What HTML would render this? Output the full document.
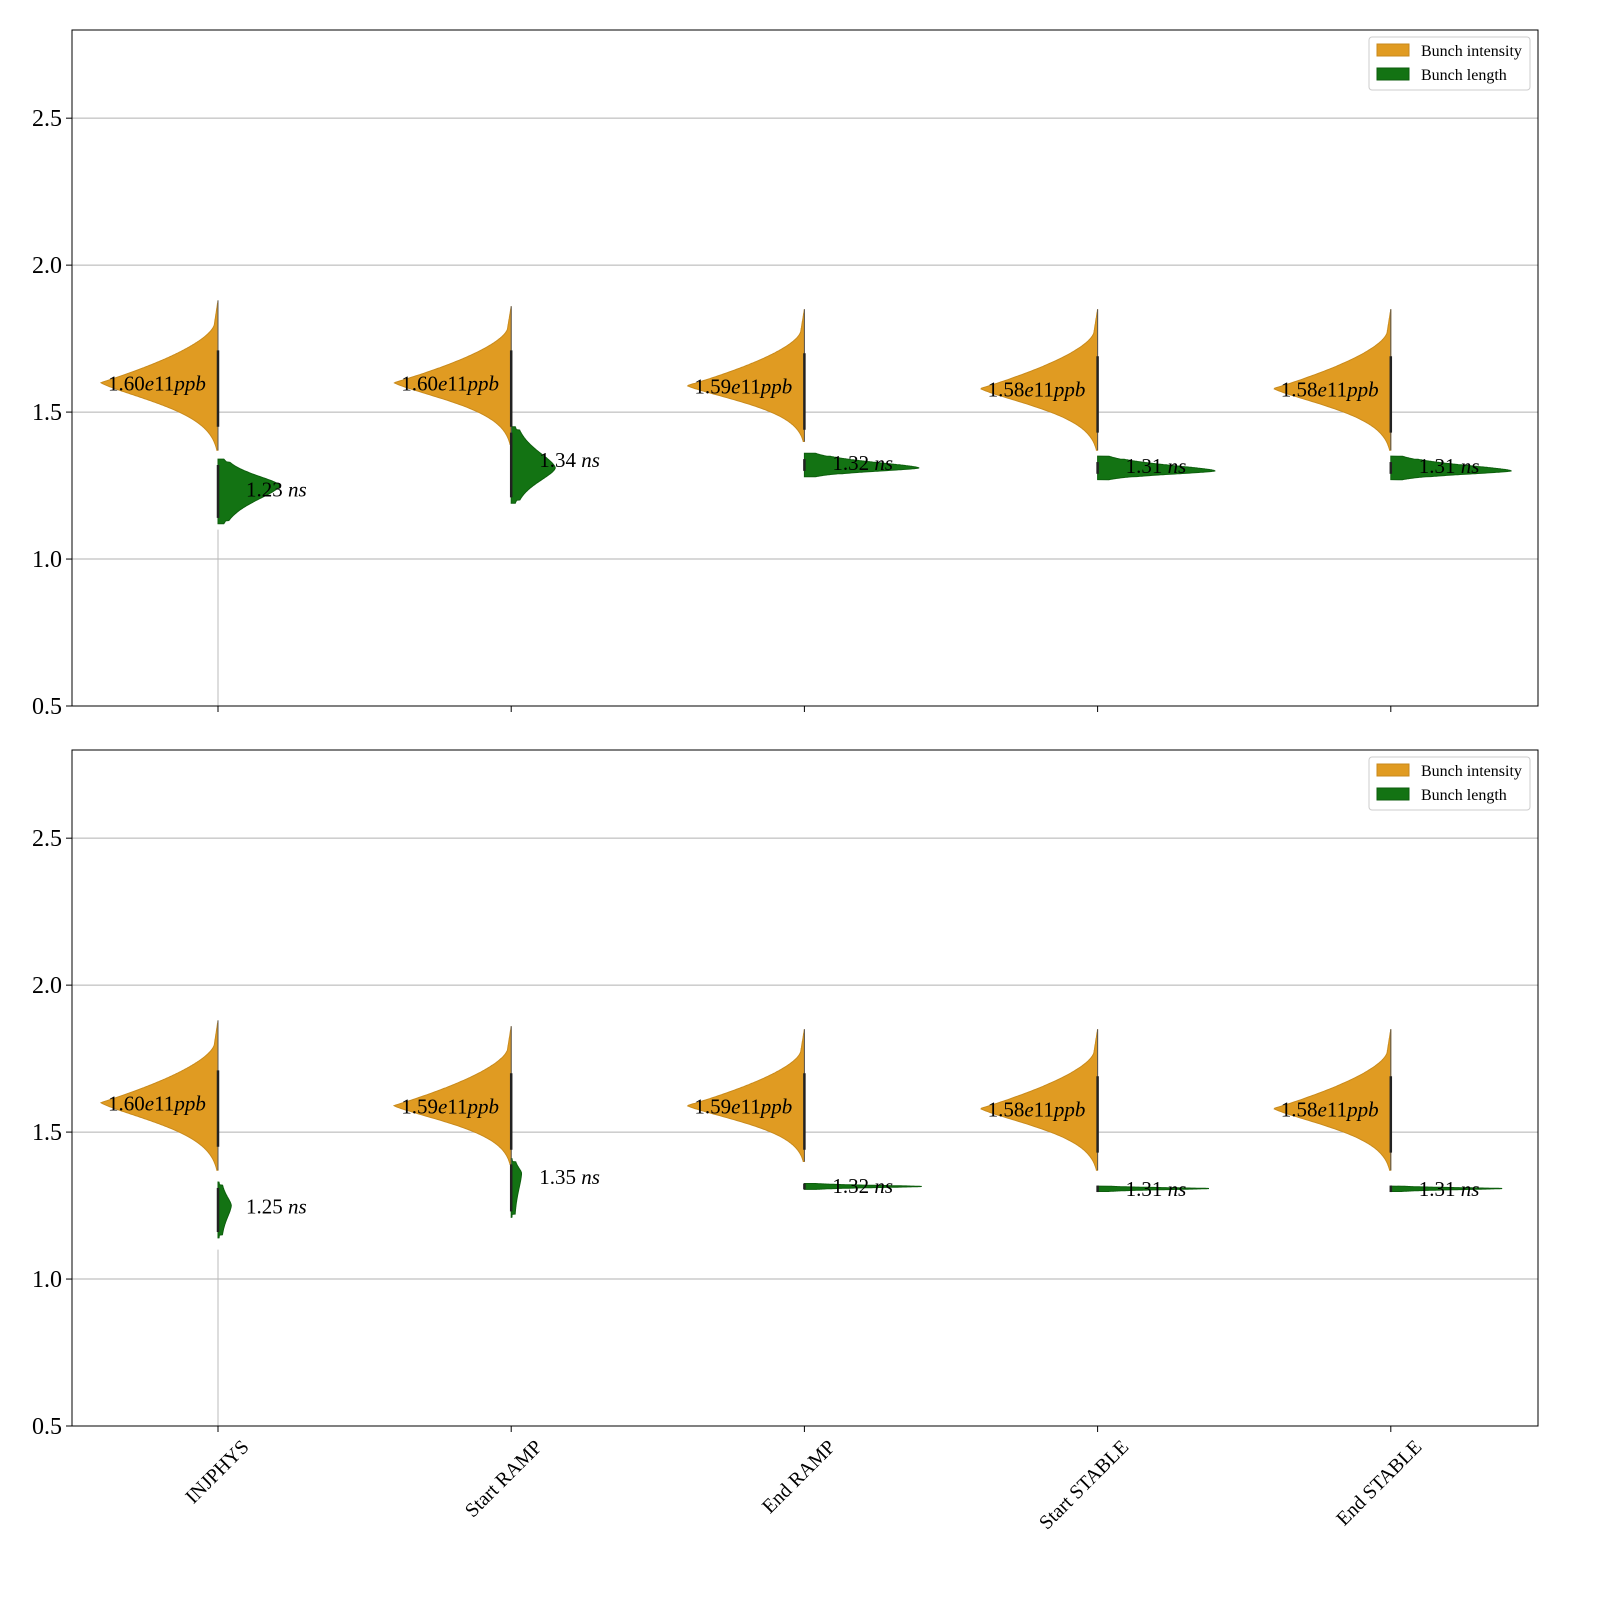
<!DOCTYPE html>
<html><head><meta charset="utf-8"><style>
body{margin:0;background:#fff}
svg{display:block;font-family:"Liberation Serif",serif}
</style></head><body>
<svg id="chart" width="1600" height="1600" viewBox="0 0 1600 1600"></svg>
<script>
const categories=["INJPHYS","Start RAMP","End RAMP","Start STABLE","End STABLE"];
const yTicks=[0.5,1.0,1.5,2.0,2.5];
const p1IntPeak=[1.60,1.60,1.59,1.58,1.58];
const p1IntLabel=["1.60","1.60","1.59","1.58","1.58"];
const p2IntPeak=[1.60,1.59,1.59,1.58,1.58];
const p2IntLabel=["1.60","1.59","1.59","1.58","1.58"];
const intLow=[1.37,1.39,1.40,1.37,1.37];
const intHigh=[1.88,1.86,1.85,1.85,1.85];
const intWidth=[0.40,0.40,0.40,0.40,0.40];
const p1LenPeak=[1.25,1.31,1.31,1.30,1.30];
const p1LenLow=[1.12,1.19,1.28,1.27,1.27];
const p1LenHigh=[1.34,1.45,1.36,1.35,1.35];
const p1LenWidth=[0.20,0.14,0.38,0.39,0.40];
const p1LenLabel=["1.23","1.34","1.32","1.31","1.31"];
const p1LenLabelY=[1.24,1.34,1.33,1.32,1.32];
const p2LenPeak=[1.25,1.36,1.315,1.308,1.308];
const p2LenLow=[1.14,1.21,1.305,1.298,1.298];
const p2LenHigh=[1.33,1.41,1.325,1.316,1.316];
const p2LenWidth=[0.035,0.025,0.40,0.38,0.38];
const p2LenLabel=["1.25","1.35","1.32","1.31","1.31"];
const p2LenLabelY=[1.25,1.35,1.32,1.31,1.31];

const NS="http://www.w3.org/2000/svg";
const svg=document.getElementById('chart');
const X0=72,X1=1538,CAT=293.2;
function xPos(i){return 218+CAT*i;}
function mk(tag,attrs,parent){const e=document.createElementNS(NS,tag);for(const k in attrs)e.setAttribute(k,attrs[k]);(parent||svg).appendChild(e);return e;}
function shapeW(y,peak,low,high,pw,tail){
  if(y<low||y>high)return 0;
  if(y>=peak){
    const t=(y-peak)/(high-peak); // 0..1
    // concave rise; long thin tail above
    const u=Math.min(t/tail,1);
    return Math.pow(1-u,1.6)*(t<tail?1:0)+(t>=tail?0.03*(1-t)/(1-tail):0.03*u);
  } else {
    const t=(peak-y)/(peak-low);
    return Math.exp(-0.5*Math.pow(t*2.6,pw))*(1-t*0.9);
  }
}
function panel(top,bottom,intPeak,intLabel,lenPeak,lenLow,lenHigh,lenWidth,lenLabel,lenLabelY,showX,pname){
  const g=mk('g',{});
  
  
  const yPos=v=>bottom-(v-0.5)/2.3*(bottom-top);
  yTicks.forEach(t=>{
    const gl=mk('line',{x1:X0,x2:X1,y1:yPos(t),y2:yPos(t),stroke:'#b0b0b0','stroke-width':1},g);
    
    mk('line',{x1:X0-6,x2:X0,y1:yPos(t),y2:yPos(t),stroke:'#000'},g);
    const tl=mk('text',{x:X0-10,y:yPos(t)+8,'text-anchor':'end','font-size':24},g);
    tl.textContent=t.toFixed(1);
    
  });
  categories.forEach((c,i)=>{
    const cx=xPos(i);
    mk('line',{x1:cx,x2:cx,y1:bottom,y2:bottom+6,stroke:'#000'},g);
    if(i===0){mk('line',{x1:cx,x2:cx,y1:yPos(0.5),y2:yPos(1.1),stroke:'#bbb','stroke-width':1},g);}
    let pts=[];const lo=intLow[i],hi=intHigh[i],pk=intPeak[i];
    for(let k=0;k<=200;k++){const y=lo+(hi-lo)*k/200;pts.push([cx-intWidth[i]*CAT*shapeW(y,pk,lo,hi,1.6,0.72),yPos(y)]);}
    const vi=mk('path',{d:'M'+cx+','+yPos(lo)+' '+pts.map(p=>'L'+p[0].toFixed(1)+','+p[1].toFixed(1)).join(' ')+' L'+cx+','+yPos(hi)+'Z',fill:'#e09b22',stroke:'#c88a1c','stroke-width':1},g);
    
    pts=[];const l2=lenLow[i],h2=lenHigh[i],p2=lenPeak[i];
    for(let k=0;k<=160;k++){const y=l2+(h2-l2)*k/160;
      const s=y<p2?(p2-l2)/2.6:(h2-p2)/2.6;
      const w=Math.exp(-0.5*Math.pow(Math.abs((y-p2)/s),1.6));
      pts.push([cx+lenWidth[i]*CAT*w+(y>l2+0.01&&y<h2-0.01?3:0),yPos(y)]);}
    const vl=mk('path',{d:'M'+cx+','+yPos(l2)+' '+pts.map(p=>'L'+p[0].toFixed(1)+','+p[1].toFixed(1)).join(' ')+' L'+cx+','+yPos(h2)+'Z',fill:'#137313',stroke:'#0d5e0d','stroke-width':1},g);
    
    mk('line',{x1:cx,x2:cx,y1:yPos(lo),y2:yPos(hi),stroke:'#555','stroke-width':1},g);
    mk('line',{x1:cx,x2:cx,y1:yPos(pk-0.15),y2:yPos(pk+0.11),stroke:'#222','stroke-width':2.5},g);
    mk('line',{x1:cx,x2:cx,y1:yPos(l2+0.02),y2:yPos(h2-0.02),stroke:'#222','stroke-width':2.5},g);
    const it=mk('text',{x:cx-110,y:yPos(pk)+8,'font-size':21},g);
    it.innerHTML=intLabel[i]+'<tspan font-style="italic">e</tspan>11<tspan font-style="italic">ppb</tspan>';
    
    const lt=mk('text',{x:cx+28,y:yPos(lenLabelY[i])+8,'font-size':21},g);
    lt.innerHTML=lenLabel[i]+' <tspan font-style="italic">ns</tspan>';
    
    if(showX){
      const xl=mk('text',{x:0,y:0,'text-anchor':'end','font-size':20,transform:'translate('+(cx+32)+','+(bottom+22)+') rotate(-45)'},g);
      xl.textContent=c;
      
    }
  });
  const fr=mk('rect',{x:X0,y:top,width:X1-X0,height:bottom-top,fill:'none',stroke:'#000','stroke-width':1},g);
  
  const lg=mk('g',{},g);
  
  mk('rect',{x:1369,y:top+7,width:161,height:53,rx:3,fill:'#fff',stroke:'#ccc'},lg);
  mk('rect',{x:1377,y:top+14,width:32,height:12,fill:'#e09b22',stroke:'#c88a1c'},lg);
  mk('rect',{x:1377,y:top+38,width:32,height:12,fill:'#137313',stroke:'#0d5e0d'},lg);
  const t1=mk('text',{x:1421,y:top+26,'font-size':16},lg);t1.textContent='Bunch intensity';
  
  const t2=mk('text',{x:1421,y:top+50,'font-size':16},lg);t2.textContent='Bunch length';
  
}
panel(30,706,p1IntPeak,p1IntLabel,p1LenPeak,p1LenLow,p1LenHigh,p1LenWidth,p1LenLabel,p1LenLabelY,false,'top-panel');
panel(750,1426,p2IntPeak,p2IntLabel,p2LenPeak,p2LenLow,p2LenHigh,p2LenWidth,p2LenLabel,p2LenLabelY,true,'bottom-panel');
</script>
</body></html>
